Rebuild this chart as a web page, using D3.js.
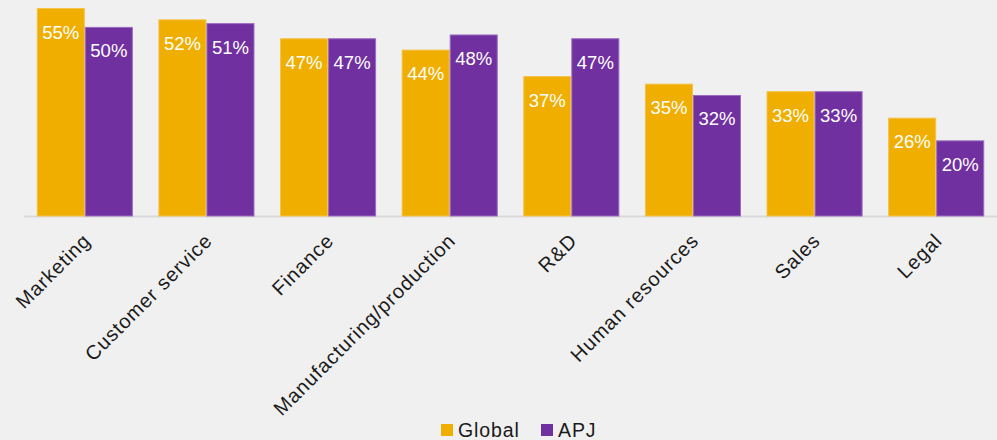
<!DOCTYPE html>
<html>
<head>
<meta charset="utf-8">
<script src="https://cdn.jsdelivr.net/npm/d3@7"></script>
<style>
  html, body { margin: 0; padding: 0; background: #f0f0f0; }
  svg { display: block; font-family: "Liberation Sans", Arial, sans-serif; }
</style>
</head>
<body>
<svg id="chart" width="997" height="440"></svg>
<script>
// Share of respondents by business function
const categories = ["Marketing", "Customer service", "Finance", "Manufacturing/production",
                    "R&D", "Human resources", "Sales", "Legal"];
const globalValues = [55, 52, 47, 44, 37, 35, 33, 26];
const apjValues = [50, 51, 47, 48, 47, 32, 33, 20];
const seriesNames = ["Global", "APJ"];
const seriesColors = ["#f0ae00", "#7030a0"];
const seriesStroke = ["#f5c24a", "#9a6cc0"];

const rows = categories.map((c, i) => ({ category: c, values: [globalValues[i], apjValues[i]] }));

const svg = d3.select("#chart");
const baseY = 216;

const x0 = d3.scaleBand().domain(categories).range([24, 997]).paddingInner(0.21).paddingOuter(0.105);
const x1 = d3.scaleBand().domain(seriesNames).range([0, x0.bandwidth()]);
const y = d3.scaleLinear().domain([0, 55]).range([baseY, 8]);

// baseline
svg.append("line")
  .attr("x1", 24).attr("x2", 997)
  .attr("y1", baseY + 0.5).attr("y2", baseY + 0.5)
  .attr("stroke", "#d9d9d9").attr("stroke-width", 2);

const groups = svg.selectAll("g.group").data(rows).join("g")
  .attr("class", "group")
  .attr("transform", d => `translate(${x0(d.category)},0)`);

groups.selectAll("rect").data(d => d.values.map((v, i) => ({ v, i }))).join("rect")
  .attr("x", d => x1(seriesNames[d.i]) + 0.5)
  .attr("y", d => y(d.v) + 0.5)
  .attr("width", x1.bandwidth() - 1)
  .attr("height", d => baseY - y(d.v) - 0.5)
  .attr("fill", d => seriesColors[d.i])
  .attr("stroke", d => seriesStroke[d.i])
  .attr("stroke-width", 1);

groups.selectAll("text.value").data(d => d.values.map((v, i) => ({ v, i }))).join("text")
  .attr("class", "value")
  .attr("x", d => x1(seriesNames[d.i]) + x1.bandwidth() / 2)
  .attr("y", d => y(d.v) + 30.5)
  .attr("text-anchor", "middle")
  .attr("fill", "#ffffff")
  .attr("font-size", 18.5)
  .text(d => d.v + "%");

// category labels, rotated
const xAxis = d3.axisBottom(x0).tickSize(0).tickPadding(0);
const axisG = svg.append("g").attr("transform", `translate(0,${baseY})`).call(xAxis);
axisG.select(".domain").remove();
axisG.selectAll(".tick text")
  .attr("font-size", 20)
  .attr("letter-spacing", 0.9)
  .attr("font-family", "Liberation Sans, Arial, sans-serif")
  .attr("fill", "#1a1a1a")
  .attr("text-anchor", "end")
  .attr("dy", null)
  .attr("transform", "translate(7,26) rotate(-45)");

// legend
const legend = svg.append("g").attr("transform", "translate(441,424)");
const items = legend.selectAll("g").data(seriesNames).join("g")
  .attr("transform", (d, i) => `translate(${i * 100},0)`);
items.append("rect").attr("width", 12).attr("height", 12)
  .attr("fill", (d, i) => seriesColors[i]);
items.append("text").attr("x", 17).attr("y", 12.5)
  .attr("font-size", 19.5).attr("letter-spacing", 0.9).attr("fill", "#1a1a1a")
  .text(d => d);
</script>
</body>
</html>
